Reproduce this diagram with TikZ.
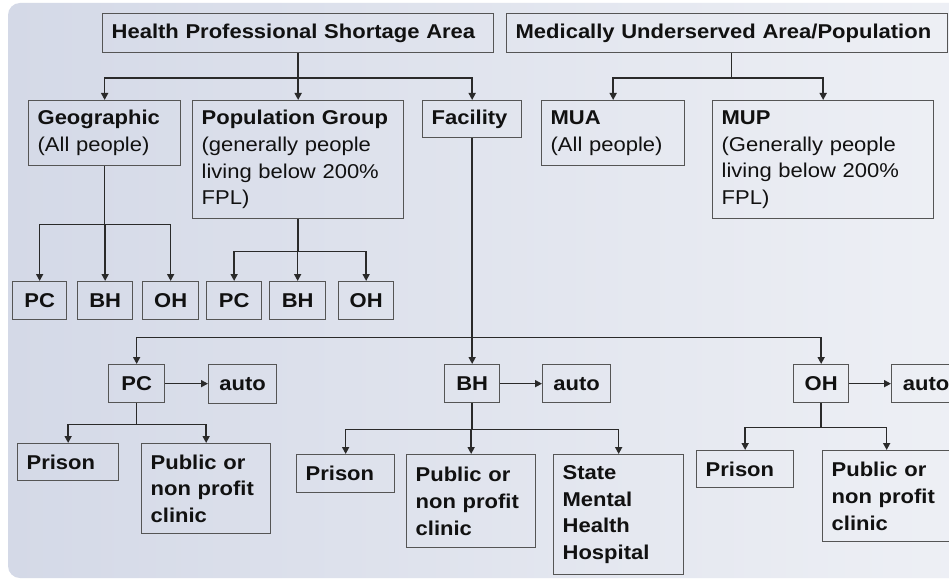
\documentclass[tikz,border=0pt]{standalone}
\usepackage{fontspec}
\setmainfont{Liberation Sans}[FakeStretch=1.1]
\usetikzlibrary{arrows.meta}
\definecolor{bgL}{HTML}{D4D9E7}
\definecolor{bgR}{HTML}{EEF0F5}
\definecolor{edgec}{HTML}{555555}
\definecolor{wirec}{HTML}{2A2A2A}
\definecolor{ink}{HTML}{111111}
\tikzset{
 box/.style={draw=edgec,line width=1.3pt,inner ysep=0pt,anchor=north west,text=ink,font=\fontsize{20}{26.7}\selectfont},
 lbox/.style={box,align=left},
 cbox/.style={box,align=center},
 arr/.style={draw=wirec,line width=1.6pt,-{Triangle[length=7pt,width=7pt]}},
 wire/.style={draw=wirec,line width=1.6pt}
}
\newcommand\bxl[6]{\pgfmathsetmacro\bw{#4-#2}\pgfmathsetmacro\bh{#5-#3}\pgfmathsetmacro\tw{#4-#2-18}%
 \node[lbox,minimum width=\bw pt,minimum height=\bh pt,text width=\tw pt,inner xsep=9pt] (#1) at (#2,#3) {#6};}
\newcommand\bxc[6]{\pgfmathsetmacro\bw{#4-#2}\pgfmathsetmacro\bh{#5-#3}\pgfmathsetmacro\tw{#4-#2-6}%
 \node[cbox,minimum width=\bw pt,minimum height=\bh pt,text width=\tw pt,inner xsep=3pt] (#1) at (#2,#3) {#6};}
\begin{document}
\begin{tikzpicture}[x=1pt,y=-1pt]
\useasboundingbox (0,0) rectangle (949,580);
\clip (0,0) rectangle (949,580);
\fill[white] (0,0) rectangle (949,580);
\shade[left color=bgL,right color=bgR,rounded corners=12pt] (8,3) rectangle (975,578);
% top level
\bxl{hpsa}{102}{13}{493}{52}{\textbf{Health Professional Shortage Area}}
\bxl{muap}{506}{13}{947}{52}{\textbf{Medically Underserved Area/Population}}
% second level
\bxl{geo}{28}{100}{180}{165}{\textbf{Geographic}\\(All people)}
\bxl{pop}{192}{100}{403}{218}{\textbf{Population Group}\\(generally people\\living below 200\%\\FPL)}
\bxl{fac}{422}{100}{521}{137}{\textbf{Facility}}
\bxl{mua}{541}{100}{684}{165}{\textbf{MUA}\\(All people)}
\bxl{mup}{712}{100}{933}{218}{\textbf{MUP}\\(Generally people\\living below 200\%\\FPL)}
% third level
\bxc{pca}{12}{281}{66}{319}{\textbf{PC}}
\bxc{bha}{77}{281}{132}{319}{\textbf{BH}}
\bxc{oha}{142}{281}{198}{319}{\textbf{OH}}
\bxc{pcb}{206}{281}{261}{319}{\textbf{PC}}
\bxc{bhb}{269}{281}{325}{319}{\textbf{BH}}
\bxc{ohb}{338}{281}{393}{319}{\textbf{OH}}
% facility level
\bxc{pcc}{108}{364}{164}{402}{\textbf{PC}}
\bxc{autoa}{208}{364}{276}{403}{\textbf{auto}}
\bxc{bhc}{444}{364}{499}{402}{\textbf{BH}}
\bxc{autob}{542}{364}{610}{402}{\textbf{auto}}
\bxc{ohc}{793}{364}{848}{402}{\textbf{OH}}
\bxc{autoc}{891}{364}{960}{402}{\textbf{auto}}
% leaves
\bxl{prisa}{17}{443}{118}{480}{\textbf{Prison}}
\bxl{puba}{141}{443}{270}{533}{\textbf{Public or}\\\textbf{non profit}\\\textbf{clinic}}
\bxl{prisb}{296}{454}{394}{492}{\textbf{Prison}}
\bxl{pubb}{406}{454}{535}{547}{\textbf{Public or}\\\textbf{non profit}\\\textbf{clinic}}
\bxl{state}{553}{454}{683}{574}{\textbf{State}\\\textbf{Mental}\\\textbf{Health}\\\textbf{Hospital}}
\bxl{prisc}{696}{450}{793}{487}{\textbf{Prison}}
\bxl{pubc}{822}{450}{950}{541}{\textbf{Public or}\\\textbf{non profit}\\\textbf{clinic}}
% connectors: HPSA
\draw[wire] (hpsa.south) -- ++(0,25) coordinate (h1);
\draw[arr] (h1) -| (geo.north);
\draw[arr] (h1) -- (pop.north);
\draw[arr] (h1) -| (fac.north);
% MUA/P
\draw[wire] ([xshift=4.5pt]muap.south) -- ++(0,25) coordinate (m1);
\draw[arr] (m1) -| (mua.north);
\draw[arr] (m1) -| (mup.north);
% Geographic
\draw[wire] (geo.south) -- ++(0,58) coordinate (g1);
\draw[arr] (g1) -| (pca.north);
\draw[arr] (g1) -| (bha.north);
\draw[arr] (g1) -| (oha.north);
% Population group
\draw[wire] (pop.south) -- ++(0,32) coordinate (p1);
\draw[arr] (p1) -| (pcb.north);
\draw[arr] (p1) -| (bhb.north);
\draw[arr] (p1) -| (ohb.north);
% Facility
\draw[wire] (fac.south) -- ++(0,199) coordinate (f1);
\draw[arr] (f1) -| (pcc.north);
\draw[arr] (f1) -- (bhc.north);
\draw[arr] (f1) -| (ohc.north);
% auto arrows
\draw[arr] (pcc.east) -- (autoa.west |- pcc.east);
\draw[arr] (bhc.east) -- (autob.west |- bhc.east);
\draw[arr] (ohc.east) -- (autoc.west |- ohc.east);
% PC facility
\draw[wire] (pcc.south) -- ++(0,21) coordinate (c1);
\draw[arr] (c1) -| (prisa.north);
\draw[arr] (c1) -| (puba.north);
% BH facility
\draw[wire] (bhc.south) -- ++(0,26) coordinate (c2);
\draw[arr] (c2) -| (prisb.north);
\draw[arr] (c2) -| (pubb.north);
\draw[arr] (c2) -| (state.north);
% OH facility
\draw[wire] (ohc.south) -- ++(0,24) coordinate (c3);
\draw[arr] (c3) -| (prisc.north);
\draw[arr] (c3) -| (pubc.north);
\end{tikzpicture}
\end{document}
